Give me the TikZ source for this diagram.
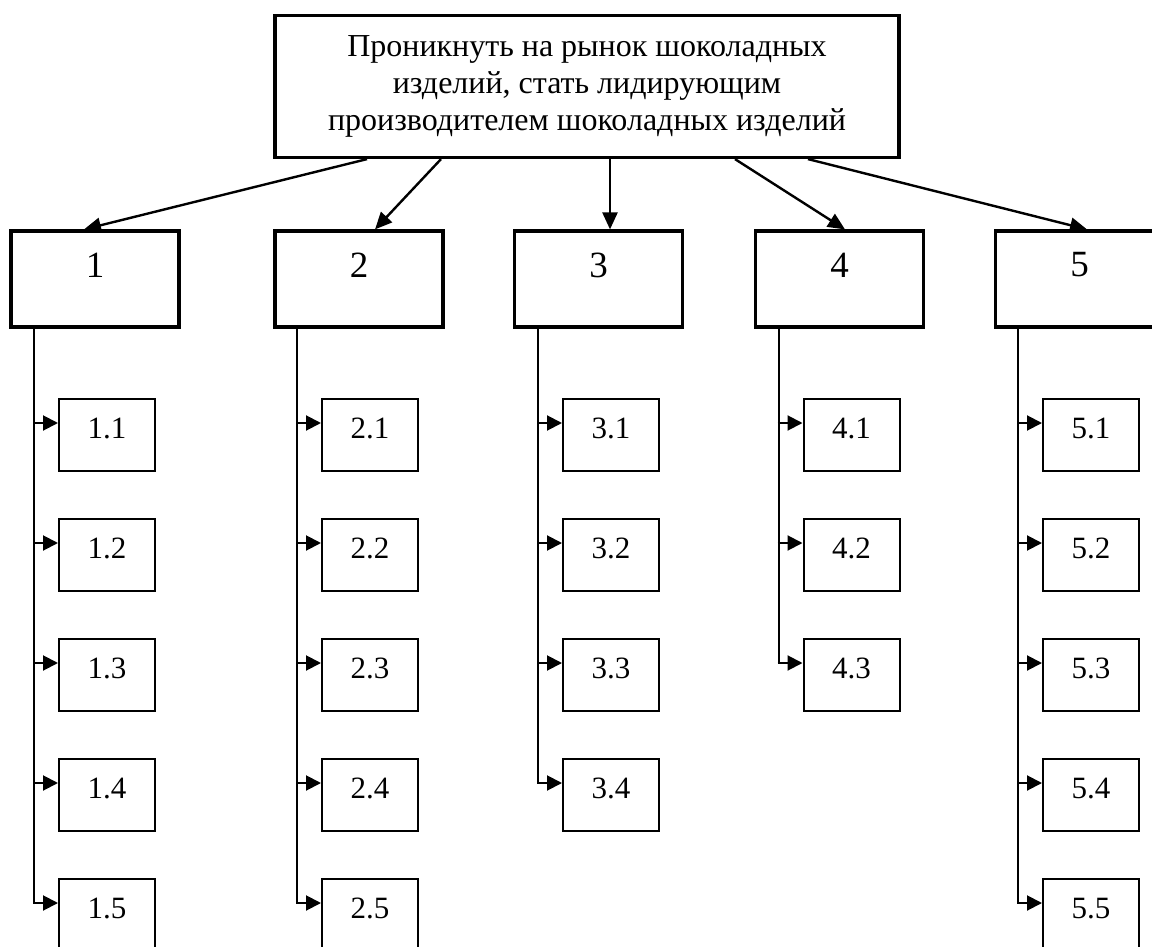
\documentclass[tikz,border=0pt]{standalone}
\usepackage{fontspec}
\setmainfont{Liberation Serif}
\usetikzlibrary{arrows.meta,calc}
\begin{document}
\begin{tikzpicture}[x=1pt,y=-1pt,
  goalbox/.style={draw, line width=3.2pt, minimum width=624pt, minimum height=142pt,
    inner sep=0pt, align=center, font=\fontsize{32}{36.7}\selectfont},
  areabox/.style={draw, line width=3.2pt, minimum width=168pt, minimum height=96pt, inner sep=0pt},
  arealabel/.style={inner sep=0pt, font=\fontsize{37}{42}\selectfont},
  subbox/.style={draw, line width=2pt, minimum width=96pt, minimum height=72pt, inner sep=0pt,
    font=\fontsize{31}{35}\selectfont},
  fan/.style={line width=2.4pt, -{Triangle[length=17pt,width=15pt]}},
  trunk/.style={line width=2pt},
  branch/.style={line width=2pt, -{Triangle[length=15pt,width=15pt]}}
]
\useasboundingbox (0,0) rectangle (1152,947);
\clip (0,0) rectangle (1152,947);

% goal
\node[goalbox] (goal) at (587,86.5)
  {Проникнуть на рынок шоколадных\\изделий, стать лидирующим\\производителем шоколадных изделий};

% first level
\foreach \i/\x in {1/95,2/359,3/598.5,4/839.5,5/1079.5}{
  \node[areabox] (A\i) at (\x,279) {};
  \node[arealabel] (A\i t) at (\x,265) {\i};
}

% fan of arrows from the goal
\draw[fan] (goal.south -| 367,0) -- (A1.north -| 84,0);
\draw[fan] (goal.south -| 441,0) -- (A2.north -| 375,0);
\draw[fan] (goal.south -| 610,0) -- (A3.north -| 610,0);
\draw[fan] (goal.south -| 735,0) -- (A4.north -| 845,0);
\draw[fan] (goal.south -| 808,0) -- (A5.north -| 1087,0);

% second level
\foreach \i/\x/\n in {1/107/5,2/370/5,3/611/4,4/851.5/3,5/1091/5}{
  \foreach \k in {1,...,\n}{
    \node[subbox] (S\i\k) at (\x,{435+120*(\k-1)})
      {\raisebox{4.75pt}[0.7em][0.2em]{\i.\k}};
    \coordinate (P\i\k) at ([yshift=12pt]S\i\k.west);
  }
  \coordinate (V\i) at ([xshift=-24pt]P\i1);
  \draw[trunk] (A\i.south -| V\i) -- (V\i |- P\i\n);
  \foreach \k in {1,...,\n}{
    \draw[branch] ([xshift=-1pt]V\i |- P\i\k) -- (P\i\k);
  }
}
\end{tikzpicture}
\end{document}
